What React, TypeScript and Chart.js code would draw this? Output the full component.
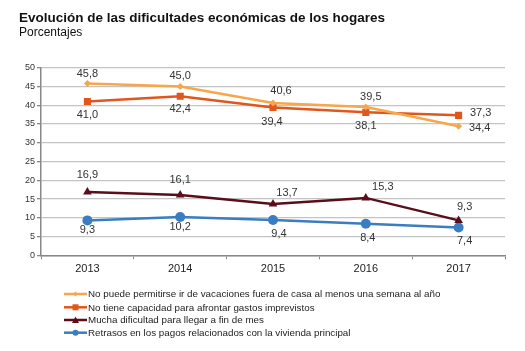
import React, { useEffect, useRef } from "react";
import { Chart, registerables } from "chart.js";

Chart.register(...registerables);

const years = ["2013", "2014", "2015", "2016", "2017"];
const vacaciones = [45.8, 45.0, 40.6, 39.5, 34.4];
const imprevistos = [41.0, 42.4, 39.4, 38.1, 37.3];
const finDeMes = [16.9, 16.1, 13.7, 15.3, 9.3];
const retrasos = [9.3, 10.2, 9.4, 8.4, 7.4];
const yTicks = [0, 5, 10, 15, 20, 25, 30, 35, 40, 45, 50];

const seriesNames = [
  "No puede permitirse ir de vacaciones fuera de casa al menos una semana al año",
  "No tiene capacidad para afrontar gastos imprevistos",
  "Mucha dificultad para llegar a fin de mes",
  "Retrasos en los pagos relacionados con la vivienda principal",
];
const title = "Evolución de las dificultades económicas de los hogares";
const subtitle = "Porcentajes";

const colors = ["#F7A64A", "#E0561C", "#5A0E1A", "#3B7DC1"];
const pointStyles = ["rectRot", "rect", "triangle", "circle"];
const pointRadii = [3.5, 5, 5, 5];

// label offsets (dx, dy) relative to each point, per series
const labelOffsets = [
  [[0, -9], [0, -10], [8, -12], [5, -10], [21, 2]],
  [[0, 14], [0, 13], [-1, 14], [0, 14], [22, -2]],
  [[0, -17], [0, -15], [14, -11], [17, -11], [6, -13]],
  [[0, 10], [0, 10], [6, 14], [2, 14], [6, 13]],
];

const FONT = "'Liberation Sans', Arial, sans-serif";

const overlayPlugin = {
  id: "overlay",
  afterDraw(chart: any) {
    const ctx = chart.ctx;
    ctx.save();
    // Title
    ctx.fillStyle = "#111";
    ctx.textBaseline = "middle";
    ctx.textAlign = "left";
    ctx.font = `bold 13.5px ${FONT}`;
    ctx.fillText(title, 19, 18);
    ctx.font = `12px ${FONT}`;
    ctx.fillText(subtitle, 19, 33);

    // Data labels
    ctx.font = `11px ${FONT}`;
    ctx.fillStyle = "#333";
    ctx.textAlign = "center";
    chart.data.datasets.forEach((ds: any, i: number) => {
      const meta = chart.getDatasetMeta(i);
      meta.data.forEach((pt: any, j: number) => {
        const [dx, dy] = labelOffsets[i][j];
        const v = ds.data[j];
        ctx.fillText(v.toFixed(1).replace(".", ","), pt.x + dx, pt.y + dy);
      });
    });

    // Legend
    const legendY = [294, 307.3, 320, 332.7];
    ctx.textAlign = "left";
    ctx.font = `9.8px ${FONT}`;
    seriesNames.forEach((name, i) => {
      const y = legendY[i];
      ctx.strokeStyle = colors[i];
      ctx.lineWidth = 2.5;
      ctx.beginPath();
      ctx.moveTo(64, y);
      ctx.lineTo(87, y);
      ctx.stroke();
      ctx.fillStyle = colors[i];
      const cx = 75.5;
      const r = i === 0 ? 2.5 : 3;
      ctx.beginPath();
      if (i === 0) {
        ctx.moveTo(cx, y - r);
        ctx.lineTo(cx + r, y);
        ctx.lineTo(cx, y + r);
        ctx.lineTo(cx - r, y);
        ctx.closePath();
      } else if (i === 1) {
        ctx.rect(cx - r, y - r, 2 * r, 2 * r);
      } else if (i === 2) {
        ctx.moveTo(cx, y - r - 0.5);
        ctx.lineTo(cx + r + 0.5, y + r);
        ctx.lineTo(cx - r - 0.5, y + r);
        ctx.closePath();
      } else {
        ctx.arc(cx, y, r, 0, Math.PI * 2);
      }
      ctx.fill();
      ctx.fillStyle = "#222";
      ctx.fillText(name, 88, y + 0.5);
    });
    ctx.restore();
  },
};

export default function App() {
  const ref = useRef<HTMLCanvasElement>(null);
  useEffect(() => {
    const datasets = [vacaciones, imprevistos, finDeMes, retrasos].map((d, i) => ({
      label: seriesNames[i],
      data: d,
      borderColor: colors[i],
      backgroundColor: colors[i],
      borderWidth: 2.5,
      pointStyle: pointStyles[i] as any,
      pointRadius: pointRadii[i],
      pointBorderWidth: 0,
      pointBackgroundColor: colors[i],
      tension: 0,
    }));
    const chart = new Chart(ref.current!, {
      type: "line",
      data: { labels: years, datasets },
      options: {
        animation: false,
        responsive: false,
        maintainAspectRatio: false,
        layout: { padding: { left: 0, top: 67.7, right: 20, bottom: 75.7 } },
        plugins: {
          legend: { display: false },
          title: { display: false },
          tooltip: { enabled: false },
        },
        scales: {
          x: {
            type: "category",
            offset: true,
            grid: {
              offset: true,
              drawOnChartArea: false,
              drawTicks: true,
              tickLength: 4,
              tickColor: "#888",
            },
            border: { color: "#888", width: 1.5 },
            ticks: {
              color: "#222",
              font: { family: FONT, size: 11 },
              padding: 3,
              maxRotation: 0,
            },
            afterFit: (s: any) => {
              s.height = 20;
            },
          },
          y: {
            min: 0,
            max: 50,
            afterBuildTicks: (s: any) => {
              s.ticks = yTicks.map((v) => ({ value: v }));
            },
            grid: {
              color: "#C4C4C4",
              lineWidth: 1.3,
              drawTicks: true,
              tickLength: 4,
              tickColor: "#888",
            },
            border: { color: "#888", width: 1.5 },
            ticks: {
              color: "#333",
              font: { family: FONT, size: 9 },
              padding: 2,
            },
            afterFit: (s: any) => {
              s.width = 41;
            },
          },
        },
      },
      plugins: [overlayPlugin],
    });
    return () => chart.destroy();
  }, []);
  return (
    <div style={{ position: "absolute", left: 0, top: 0, width: 525, height: 351, background: "#fff" }}>
      <canvas ref={ref} width={525} height={351} style={{ display: "block" }} />
    </div>
  );
}
